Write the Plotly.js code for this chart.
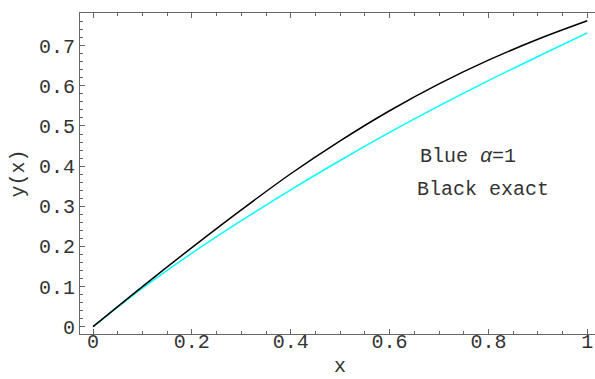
<!DOCTYPE html>
<html>
<head>
<meta charset="utf-8">
<script src="https://cdn.plot.ly/plotly-3.0.1.min.js"></script>
<style>html,body{margin:0;padding:0;background:#fff;}#plot{width:595px;height:379px;}</style>
</head>
<body>
<div id="plot"></div>
<script>
// values
const xs = [0, 0.1, 0.2, 0.3, 0.4, 0.5, 0.6, 0.7, 0.8, 0.9, 1.0];
const exactY = [0, 0.100, 0.197, 0.291, 0.381, 0.463, 0.538, 0.605, 0.664, 0.716, 0.762];
const alphaY = [0, 0.096, 0.183, 0.264, 0.341, 0.414, 0.484, 0.550, 0.613, 0.673, 0.732];
const xTicks = [0, 0.2, 0.4, 0.6, 0.8, 1];
const yTicks = [0, 0.1, 0.2, 0.3, 0.4, 0.5, 0.6, 0.7];
const labelBlue = 'Blue <i>α</i>=1';
const labelBlack = 'Black exact';
const xTitle = 'x';
const yTitle = 'y(x)';

const fontFam = '"Liberation Mono", "Courier New", monospace';
const txtCol = '#333';
const fs = 20;
const xRange = [-0.0263, 1.0156];
const traces = [
  {x: xs, y: alphaY, mode: 'lines', line: {color: '#00FFFF', width: 1.5, shape: 'spline', smoothing: 1}, hoverinfo: 'skip'},
  {x: xs, y: exactY, mode: 'lines', line: {color: '#000000', width: 1.5, shape: 'spline', smoothing: 1}, hoverinfo: 'skip'},
  {x: [], y: [], xaxis: 'x2', mode: 'lines', hoverinfo: 'skip'}
];
const layout = {
  width: 595, height: 379,
  margin: {l: 80, r: 0, t: 13, b: 45},
  paper_bgcolor: '#fff', plot_bgcolor: '#fff',
  showlegend: false,
  font: {family: fontFam, size: fs, color: txtCol},
  xaxis: {
    range: xRange, showgrid: false, zeroline: false,
    tickmode: 'array', tickvals: xTicks, showticklabels: false,
    ticks: 'inside', ticklen: 5, tickcolor: '#666', tickwidth: 1,
    minor: {dtick: 0.05, tick0: 0, ticks: 'inside', ticklen: 3, tickcolor: '#666'},
    showline: true, linecolor: '#666', linewidth: 1, mirror: 'ticks'
  },
  xaxis2: {
    overlaying: 'x', anchor: 'free', position: 0.022,
    range: xRange, showgrid: false, zeroline: false, showline: false, ticks: '',
    tickmode: 'array', tickvals: xTicks, ticktext: xTicks.map(String),
    tickfont: {family: fontFam, size: fs, color: txtCol}
  },
  yaxis: {
    range: [-0.0182, 0.7815], showgrid: false, zeroline: false,
    tickmode: 'array', tickvals: yTicks, ticktext: yTicks.map(String),
    ticks: 'inside', ticklen: 5, tickcolor: '#666', tickwidth: 1,
    minor: {dtick: 0.02, tick0: 0, ticks: 'inside', ticklen: 3, tickcolor: '#666'},
    showline: true, linecolor: '#666', linewidth: 1, mirror: false,
    tickfont: {family: fontFam, size: fs, color: txtCol},
    title: {text: yTitle, font: {family: fontFam, size: fs, color: txtCol}, standoff: 8}
  },
  annotations: [
    {x: 0.5, y: 0, xref: 'x', yref: 'paper', yshift: -45, yanchor: 'bottom', text: xTitle, showarrow: false,
     borderpad: 0, font: {family: fontFam, size: fs, color: txtCol}},
    {x: 0.759, y: 0.423, xref: 'x', yref: 'y', text: labelBlue, showarrow: false,
     font: {family: fontFam, size: fs, color: txtCol}},
    {x: 0.788, y: 0.342, xref: 'x', yref: 'y', text: labelBlack, showarrow: false,
     font: {family: fontFam, size: fs, color: txtCol}}
  ]
};
Plotly.newPlot('plot', traces, layout, {staticPlot: true, displayModeBar: false});
</script>
</body>
</html>
